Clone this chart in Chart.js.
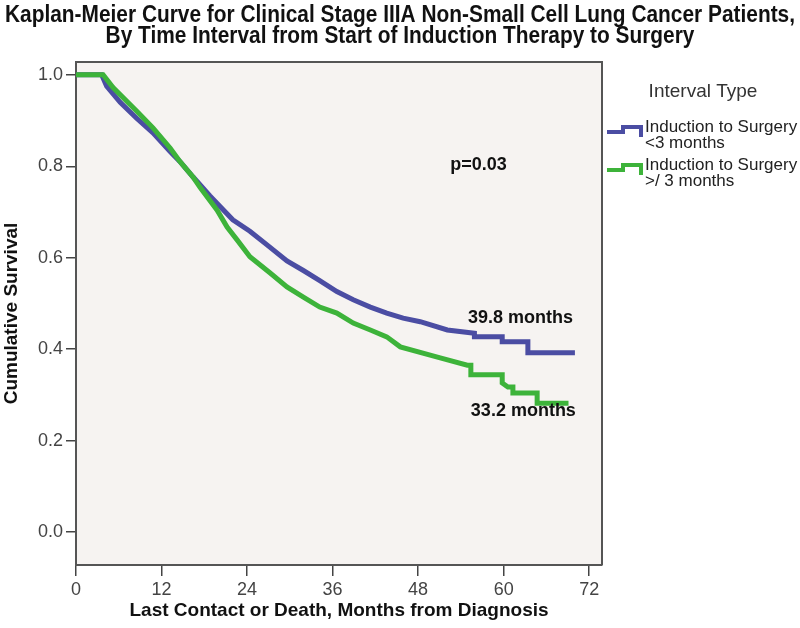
<!DOCTYPE html>
<html>
<head>
<meta charset="utf-8">
<script src="https://cdn.jsdelivr.net/npm/chart.js@4.4.0/dist/chart.umd.min.js"></script>
<style>
body { margin: 0; background: #fff; }
</style>
</head>
<body>
<canvas id="kmChart" width="800" height="628"></canvas>
<script>
'use strict';
// values
const titleLines = [
    'Kaplan-Meier Curve for Clinical Stage IIIA Non-Small Cell Lung Cancer Patients,',
    'By Time Interval from Start of Induction Therapy to Surgery'
];
const xTicks = [0, 12, 24, 36, 48, 60, 72];
const yTicks = [0, 0.2, 0.4, 0.6, 0.8, 1.0];

// interval < 3 months (blue)
const blueMonths = [0, 3.6, 4.3, 6.2, 8.5, 10.8, 13.2, 14.6, 16.4, 18.8, 22.0, 24.4, 26.8, 29.6, 31.9, 34.2, 36.6, 38.9, 41.3, 43.6, 45.9, 48.3, 52.1, 55.9, 55.9, 59.8, 59.8, 63.4, 63.4, 70.0];
const blueSurv = [1.0, 1.0, 0.975, 0.94, 0.905, 0.873, 0.832, 0.81, 0.777, 0.735, 0.683, 0.658, 0.628, 0.593, 0.572, 0.55, 0.526, 0.508, 0.492, 0.479, 0.468, 0.46, 0.442, 0.435, 0.427, 0.427, 0.416, 0.416, 0.392, 0.392];

// interval >= 3 months (green)
const greenMonths = [0, 3.8, 5.2, 8.6, 10.8, 13.2, 14.6, 16.4, 17.4, 19.8, 21.2, 22.6, 24.4, 27.2, 29.6, 31.9, 34.2, 36.6, 38.9, 41.3, 43.6, 45.5, 51.1, 54.9, 55.4, 55.4, 59.8, 59.8, 60.6, 61.3, 61.3, 64.7, 64.7, 69.1];
const greenSurv = [1.0, 1.0, 0.972, 0.919, 0.884, 0.84, 0.81, 0.777, 0.754, 0.704, 0.667, 0.639, 0.602, 0.567, 0.536, 0.514, 0.492, 0.479, 0.457, 0.442, 0.427, 0.405, 0.381, 0.365, 0.365, 0.344, 0.344, 0.326, 0.317, 0.317, 0.304, 0.304, 0.282, 0.282];

const legendTitle = 'Interval Type';
const seriesNames = [['Induction to Surgery', '<3 months'], ['Induction to Surgery', '>/ 3 months']];
const seriesColors = ['#4B4DA3', '#3DB33A'];
// note text with its anchor (months, survival)
const notes = [
    { text: 'p=0.03', t: 52.5, s: 0.803 },
    { text: '39.8 months', t: 55.0, s: 0.468 },
    { text: '33.2 months', t: 55.4, s: 0.265 }
];

const toPoints = (xs, ys) => xs.map((x, i) => ({ x: x, y: ys[i] }));

const plotBox = {
    id: 'plotBox',
    beforeDraw(chart) {
        const { ctx, chartArea: a } = chart;
        ctx.save();
        ctx.fillStyle = '#F6F3F1';
        ctx.fillRect(a.left, a.top, a.right - a.left, a.bottom - a.top);
        ctx.restore();
    },
    afterDraw(chart) {
        const { ctx, chartArea: a } = chart;
        ctx.save();
        // top and right sides of the frame
        ctx.strokeStyle = '#555';
        ctx.lineWidth = 2;
        ctx.beginPath();
        ctx.moveTo(a.left, a.top);
        ctx.lineTo(a.right, a.top);
        ctx.lineTo(a.right, a.bottom);
        ctx.stroke();

        // title, squeezed like a narrow font
        ctx.fillStyle = '#111';
        ctx.textAlign = 'center';
        ctx.textBaseline = 'middle';
        ctx.font = 'bold 23px "Liberation Sans", Arial, sans-serif';
        const sx = Math.min(1, 790 / ctx.measureText(titleLines[0]).width);
        titleLines.forEach((line, i) => {
            ctx.save();
            ctx.translate(400, 16 + i * 21);
            ctx.scale(sx, 1);
            ctx.fillText(line, 0, 0);
            ctx.restore();
        });

        // legend
        ctx.fillStyle = '#333';
        ctx.font = '19px "Liberation Sans", Arial, sans-serif';
        ctx.textBaseline = 'middle';
        ctx.fillText(legendTitle, 703, 92);
        ctx.textAlign = 'left';
        ctx.textBaseline = 'alphabetic';
        ctx.font = '17px "Liberation Sans", Arial, sans-serif';
        const baselines = [132, 170];
        seriesNames.forEach((lines, i) => {
            const b = baselines[i];
            ctx.fillStyle = '#222';
            ctx.fillText(lines[0], 645, b);
            ctx.fillText(lines[1], 645, b + 16);
            ctx.strokeStyle = seriesColors[i];
            ctx.lineWidth = 4;
            ctx.beginPath();
            ctx.moveTo(607, b);
            ctx.lineTo(623, b);
            ctx.lineTo(623, b - 5);
            ctx.lineTo(641, b - 5);
            ctx.lineTo(641, b + 5);
            ctx.stroke();
        });

        // notes inside the plot
        const xs = chart.scales.x, ys = chart.scales.y;
        ctx.fillStyle = '#111';
        ctx.font = 'bold 18px "Liberation Sans", Arial, sans-serif';
        ctx.textBaseline = 'middle';
        notes.forEach(n => {
            ctx.fillText(n.text, xs.getPixelForValue(n.t), ys.getPixelForValue(n.s));
        });
        ctx.restore();
    }
};

const ctx = document.getElementById('kmChart');
const kmChart = new Chart(ctx.getContext('2d'), {
    type: 'line',
    data: {
        datasets: [{
            label: seriesNames[1].join(' '),
            data: toPoints(greenMonths, greenSurv),
            borderColor: seriesColors[1],
            borderWidth: 5,
            pointRadius: 0,
            tension: 0,
            order: 0
        }, {
            label: seriesNames[0].join(' '),
            data: toPoints(blueMonths, blueSurv),
            borderColor: seriesColors[0],
            borderWidth: 5,
            pointRadius: 0,
            tension: 0,
            order: 1
        }]
    },
    options: {
        responsive: false,
        animation: false,
        layout: {
            padding: { top: 62, right: 198, bottom: 0, left: 0 }
        },
        plugins: {
            legend: { display: false },
            tooltip: { enabled: false }
        },
        scales: {
            x: {
                type: 'linear',
                min: 0,
                max: 73.8,
                afterBuildTicks: scale => { scale.ticks = xTicks.map(v => ({ value: v })); },
                afterFit: scale => { scale.height = 63; },
                grid: { drawOnChartArea: false, tickLength: 11, color: '#444', lineWidth: 1.5 },
                border: { color: '#555', width: 2 },
                ticks: { color: '#444', padding: 3, maxRotation: 0, font: { size: 18, family: '"Liberation Sans", Arial, sans-serif' } },
                title: {
                    display: true,
                    text: 'Last Contact or Death, Months from Diagnosis',
                    color: '#111',
                    padding: { top: 0, bottom: 6 },
                    font: { size: 19, weight: 'bold', family: '"Liberation Sans", Arial, sans-serif' }
                }
            },
            y: {
                min: -0.072,
                max: 1.028,
                afterBuildTicks: scale => { scale.ticks = yTicks.map(v => ({ value: v })); },
                afterFit: scale => { scale.width = 76; },
                grid: { drawOnChartArea: false, tickLength: 10, color: '#444', lineWidth: 1.5 },
                border: { color: '#555', width: 2 },
                ticks: {
                    color: '#444',
                    padding: 3,
                    callback: v => v.toFixed(1),
                    font: { size: 18, family: '"Liberation Sans", Arial, sans-serif' }
                },
                title: {
                    display: true,
                    text: 'Cumulative Survival',
                    color: '#111',
                    padding: { top: 0, bottom: 4 },
                    font: { size: 19, weight: 'bold', family: '"Liberation Sans", Arial, sans-serif' }
                }
            }
        }
    },
    plugins: [plotBox]
});
</script>
</body>
</html>
